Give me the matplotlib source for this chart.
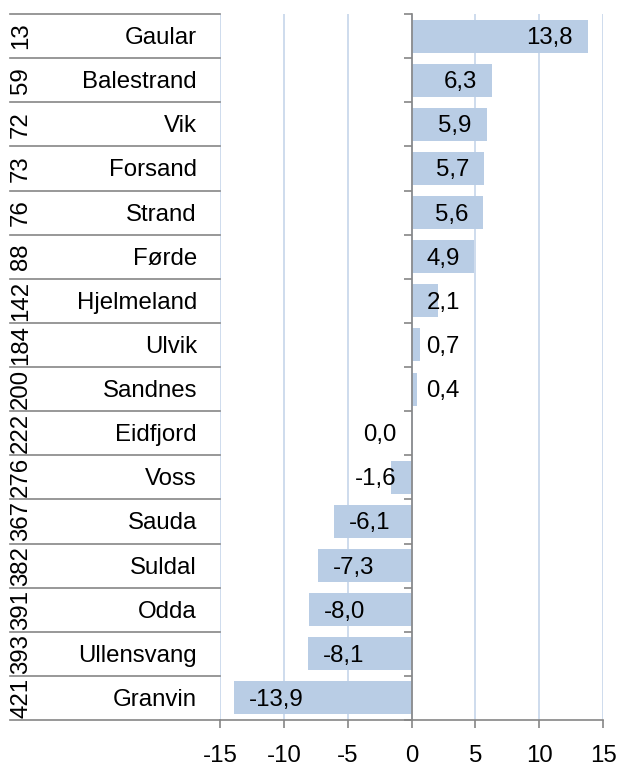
import matplotlib
matplotlib.use("Agg")
import matplotlib.pyplot as plt
from matplotlib.lines import Line2D

ranks = [13, 59, 72, 73, 76, 88, 142, 184, 200, 222, 276, 367, 382, 391, 393, 421]
names = ["Gaular", "Balestrand", "Vik", "Forsand", "Strand", "Førde", "Hjelmeland",
         "Ulvik", "Sandnes", "Eidfjord", "Voss", "Sauda", "Suldal", "Odda",
         "Ullensvang", "Granvin"]
values = [13.8, 6.3, 5.9, 5.7, 5.6, 4.9, 2.1, 0.7, 0.4, 0.0, -1.6, -6.1, -7.3, -8.0, -8.1, -13.9]
xticks = [-15, -10, -5, 0, 5, 10, 15]

plt.rcParams['font.family'] = ['Liberation Sans', 'DejaVu Sans']
FS = 17.3
W, H = 619, 767
fig = plt.figure(figsize=(W / 100, H / 100), dpi=100)
L, R, T, B = 220, 603, 14, 720
ax = fig.add_axes([L / W, 1 - B / H, (R - L) / W, (B - T) / H])

BAR = "#B9CDE5"
GRID = "#C6D6EA"
AXC = "#868686"
CAPH = 8  # half cap height in pixels

n = len(values)
ypos = list(range(n))
ax.barh(ypos, values, height=0.75, color=BAR, zorder=2)
ax.set_xlim(-15, 15)
ax.set_ylim(n - 0.5, -0.5)
ax.set_xticks(xticks)
ax.set_xticklabels([str(t) for t in xticks], fontsize=FS)
ax.xaxis.grid(True, color=GRID, linewidth=1.2, zorder=0)
ax.set_axisbelow(True)

for s in ['top', 'right']:
    ax.spines[s].set_visible(False)
ax.spines['left'].set_position(('data', 0))
ax.spines['left'].set_color(AXC)
ax.spines['left'].set_linewidth(1.2)
ax.spines['left'].set_zorder(3)
ax.spines['bottom'].set_color(AXC)
ax.spines['bottom'].set_linewidth(1.2)
ax.set_yticks([i - 0.5 for i in range(n + 1)])
ax.set_yticklabels([])
ax.tick_params(axis='y', direction='out', length=6, color=AXC, width=1.2)
ax.tick_params(axis='x', direction='out', length=6, color=AXC, width=1.2, pad=12)

# table on the left
x0f, x1f = 10 / W, L / W
for i in range(n + 1):
    yb = i - 0.5
    ydisp = ax.transData.transform((0, yb))[1]
    yf = fig.transFigure.inverted().transform((0, ydisp))[1]
    fig.add_artist(Line2D([x0f, x1f], [yf, yf], color=AXC, linewidth=1.2))
for i, (r, nm) in enumerate(zip(ranks, names)):
    ydisp = ax.transData.transform((0, i))[1]
    yf = fig.transFigure.inverted().transform((0, ydisp))[1]
    fig.text(21 / W, yf, str(r), rotation=90, ha='center', va='center', fontsize=FS)
    fig.text(197 / W, yf - CAPH / H, nm, ha='right', va='baseline', fontsize=FS)

# value labels
fig.canvas.draw()
renderer = fig.canvas.get_renderer()
pxu = (ax.transData.transform((1, 0))[0] - ax.transData.transform((0, 0))[0])
pad = 15
for i, v in enumerate(values):
    lab = f"{v:.1f}".replace('.', ',')
    t = ax.text(0, i, lab, fontsize=FS)
    w = t.get_window_extent(renderer).width
    t.remove()
    bar_px = abs(v) * pxu
    fits = bar_px - pad - w >= pad
    if v > 0:
        if fits:
            xy, dx, ha = (v, i), -pad, 'right'
        else:
            xy, dx, ha = (0, i), pad, 'left'
    else:
        if fits:
            xy, dx, ha = (v, i), pad, 'left'
        else:
            xy, dx, ha = (0, i), -pad, 'right'
    ax.annotate(lab, xy, xytext=(dx, -CAPH), textcoords='offset pixels',
                ha=ha, va='baseline', fontsize=FS, zorder=4)

fig.savefig("out.png", dpi=100)
